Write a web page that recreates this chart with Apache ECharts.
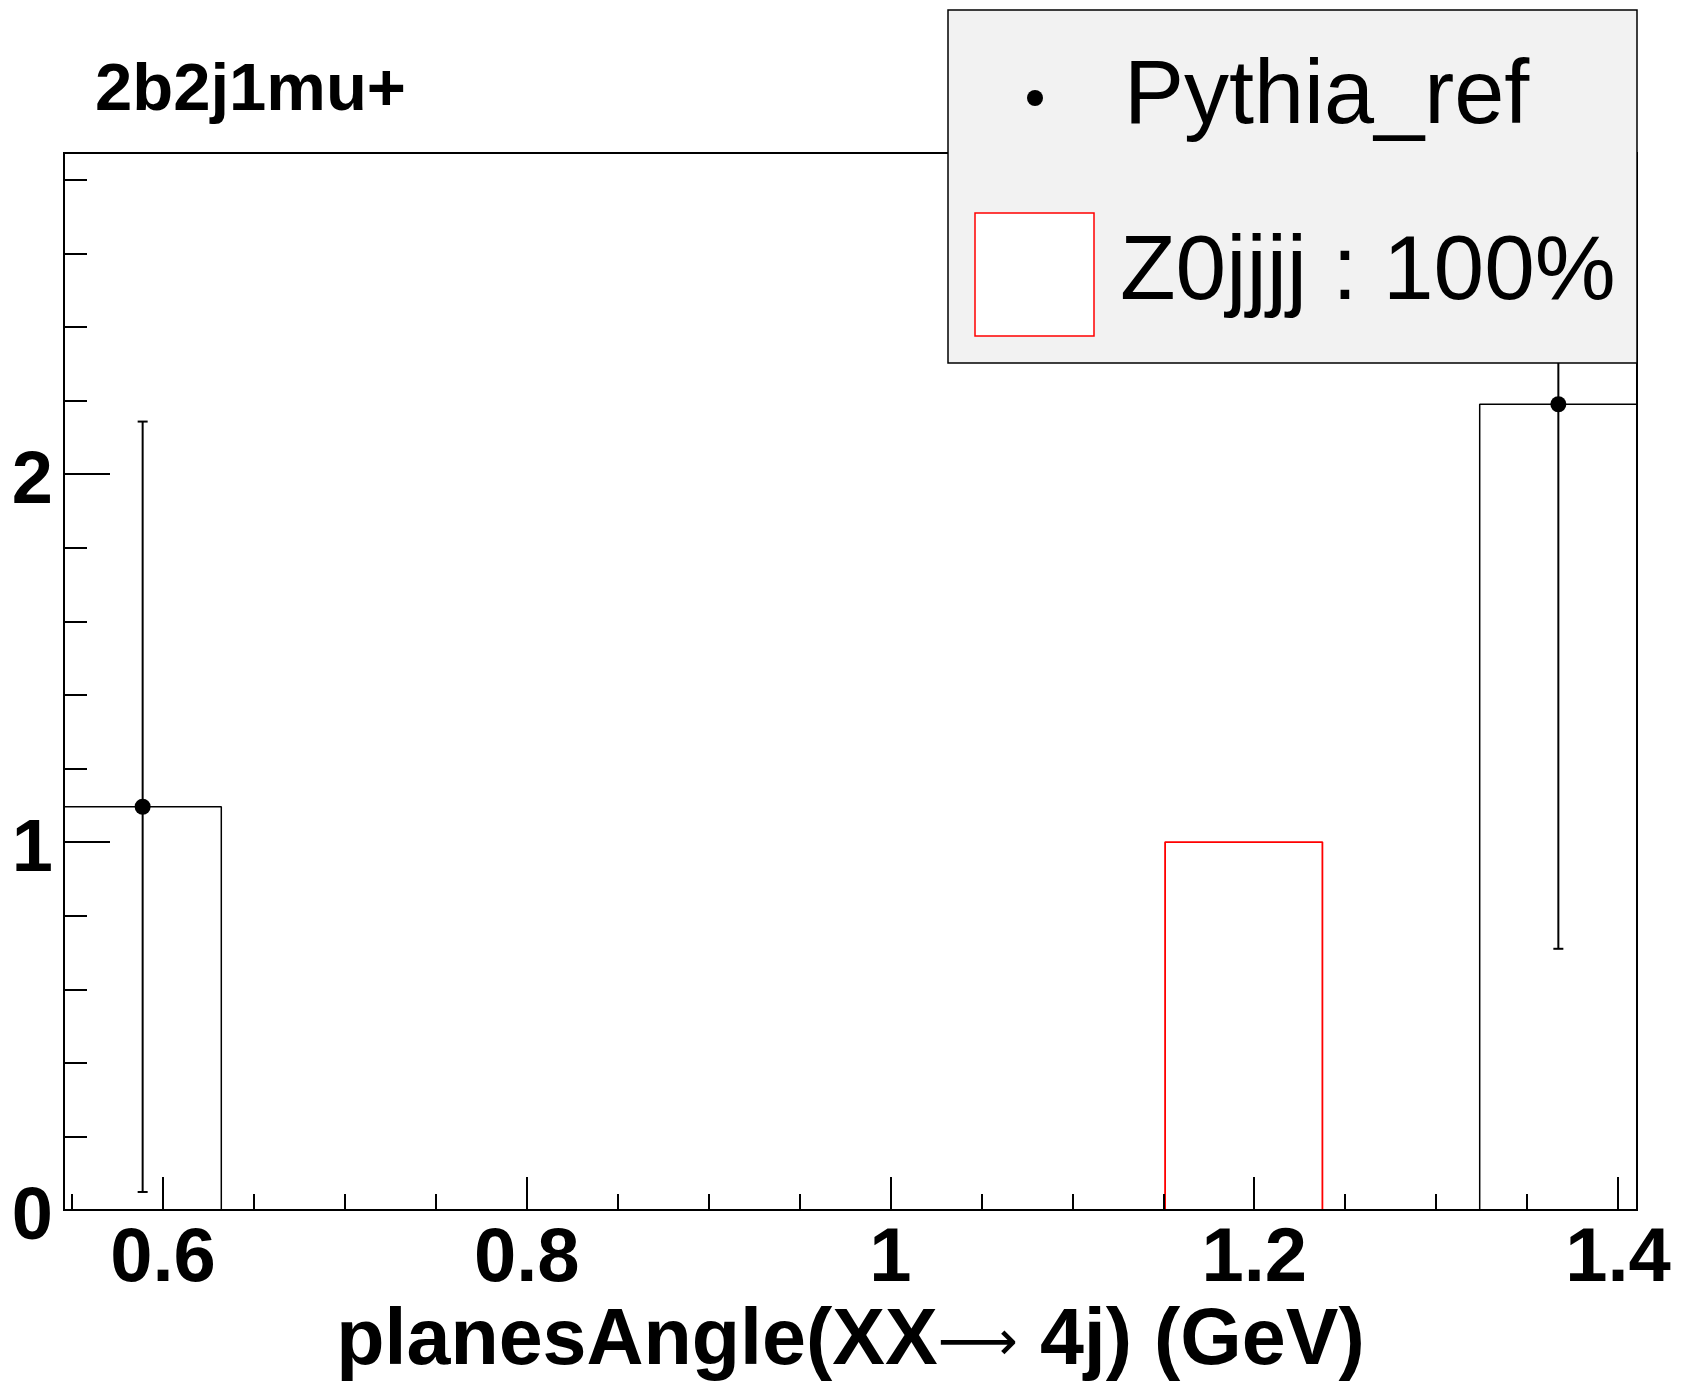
<!DOCTYPE html>
<html><head><meta charset="utf-8">
<script src="https://cdn.jsdelivr.net/npm/echarts@6/dist/echarts.min.js"></script>
<style>html,body{margin:0;padding:0;background:#fff}#c{width:1695px;height:1395px}</style>
</head><body><div id="c"></div>
<script>
// ---- data ----
const plotTitle = '2b2j1mu+';
const binRange = [0.54557, 1.41045];
const nBins = 10;
const pythiaRef = [1.096, 0, 0, 0, 0, 0, 0, 0, 0, 2.190];
const pythiaErr = [1.047, 0, 0, 0, 0, 0, 0, 0, 0, 1.480];
const z0jjjj = [0, 0, 0, 0, 0, 0, 0, 1, 0, 0];
const seriesNames = ['Pythia_ref', 'Z0jjjj : 100%'];
const xMajorTicks = [0.6, 0.8, 1.0, 1.2, 1.4];
const xTickLabels = ['0.6', '0.8', '1', '1.2', '1.4'];
const xMinorTicks = [0.55, 0.65, 0.7, 0.75, 0.85, 0.9, 0.95, 1.05, 1.1, 1.15, 1.25, 1.3, 1.35];
const yMajorTicks = [0, 1, 2];
const yTickLabels = ['0', '1', '2'];
const yMinorTicks = [0.2, 0.4, 0.6, 0.8, 1.2, 1.4, 1.6, 1.8, 2.2, 2.4, 2.6, 2.8];
const yMax = 2.873;

// ---- build ----
const binW = (binRange[1] - binRange[0]) / nBins;
function steps(vals) {
  const pts = [[binRange[0], 0]];
  vals.forEach((v, i) => {
    pts.push([binRange[0] + i * binW, v]);
    pts.push([binRange[0] + (i + 1) * binW, v]);
  });
  pts.push([binRange[1], 0]);
  return pts;
}
const points = [];
pythiaRef.forEach((v, i) => {
  if (v > 0) points.push([binRange[0] + (i + 0.5) * binW, v, pythiaErr[i]]);
});
function lbl(ticks, labels) {
  return v => { const k = ticks.findIndex(t => Math.abs(t - v) < 1e-6); return k >= 0 ? labels[k] : ''; };
}
const FONT = 'Liberation Sans';
const chart = echarts.init(document.getElementById('c'), null, {renderer: 'canvas'});
const baseX = {type: 'value', min: binRange[0], max: binRange[1], gridIndex: 0, z: 5, splitLine: {show: false}};
const baseY = {type: 'value', min: 0, max: yMax, gridIndex: 0, z: 5, splitLine: {show: false}};
chart.setOption({
  animation: false,
  backgroundColor: '#fff',
  grid: {left: 64, right: 58, top: 153, bottom: 185, show: true, borderColor: '#000', borderWidth: 2,
         backgroundColor: 'transparent', containLabel: false, outerBoundsMode: 'none'},
  xAxis: [
    Object.assign({}, baseX, {
      position: 'bottom',
      axisLine: {show: true, onZero: false, lineStyle: {color: '#000', width: 2}},
      axisTick: {show: true, inside: true, length: 33, customValues: xMajorTicks, lineStyle: {color: '#000', width: 2}},
      axisLabel: {show: true, customValues: xMajorTicks, formatter: lbl(xMajorTicks, xTickLabels), margin: 12,
                  color: '#000', fontFamily: FONT, fontWeight: 'bold', fontSize: 76},
      name: '{b|planesAngle(XX}{a|⟶}{b| 4j) (GeV)}',
      nameLocation: 'middle', nameGap: 93,
      nameTextStyle: {rich: {
        b: {fontFamily: FONT, fontWeight: 'bold', fontSize: 79, color: '#000'},
        a: {fontFamily: 'DejaVu Sans', fontWeight: 'normal', fontSize: 56, color: '#000', padding: [6, 0, 0, 0]}
      }}
    }),
    Object.assign({}, baseX, {
      position: 'bottom',
      axisLine: {show: false, onZero: false},
      axisTick: {show: true, inside: true, length: 16, customValues: xMinorTicks, lineStyle: {color: '#000', width: 2}},
      axisLabel: {show: false, customValues: xMinorTicks}
    })
  ],
  yAxis: [
    Object.assign({}, baseY, {
      position: 'left',
      axisLine: {show: true, onZero: false, lineStyle: {color: '#000', width: 2}},
      axisTick: {show: true, inside: true, length: 46, customValues: yMajorTicks, lineStyle: {color: '#000', width: 2}},
      axisLabel: {show: true, customValues: yMajorTicks, formatter: lbl(yMajorTicks, yTickLabels), margin: 11,
                  color: '#000', fontFamily: FONT, fontWeight: 'bold', fontSize: 74,
                  verticalAlign: 'top', lineHeight: 17}
    }),
    Object.assign({}, baseY, {
      position: 'left',
      axisLine: {show: false, onZero: false},
      axisTick: {show: true, inside: true, length: 23, customValues: yMinorTicks, lineStyle: {color: '#000', width: 2}},
      axisLabel: {show: false, customValues: yMinorTicks}
    })
  ],
  series: [
    {name: seriesNames[0] + ' hist', type: 'line', xAxisIndex: 0, yAxisIndex: 0, data: steps(pythiaRef),
     symbol: 'none', showSymbol: false, lineStyle: {color: '#000', width: 1.5}, z: 2, silent: true},
    {name: seriesNames[1], type: 'line', xAxisIndex: 0, yAxisIndex: 0, data: steps(z0jjjj),
     symbol: 'none', showSymbol: false, lineStyle: {color: '#ff0000', width: 1.8}, z: 3, silent: true},
    {name: seriesNames[0], type: 'custom', xAxisIndex: 0, yAxisIndex: 0, data: points, z: 4,
     encode: {x: 0, y: 1},
     renderItem: function (params, api) {
       const x = api.value(0), v = api.value(1), e = api.value(2);
       const c = api.coord([x, v]);
       const hiV = Math.min(v + e, yMax), loV = Math.max(v - e, 0);
       const hi = api.coord([x, hiV]);
       const lo = api.coord([x, loV]);
       const st = {stroke: '#000', lineWidth: 2};
       const ch = [
         {type: 'line', shape: {x1: c[0], y1: lo[1], x2: c[0], y2: hi[1]}, style: st}
       ];
       if (v + e <= yMax) ch.push({type: 'line', shape: {x1: c[0] - 5, y1: hi[1], x2: c[0] + 5, y2: hi[1]}, style: st});
       if (v - e >= 0) ch.push({type: 'line', shape: {x1: c[0] - 5, y1: lo[1], x2: c[0] + 5, y2: lo[1]}, style: st});
       ch.push({type: 'circle', shape: {cx: c[0], cy: c[1], r: 8}, style: {fill: '#000'}});
       return {type: 'group', children: ch};
     }}
  ],
  graphic: [
    {type: 'text', left: 95, top: 58, z: 100, style: {text: plotTitle, fontFamily: FONT, fontWeight: 'bold', fontSize: 67, fill: '#000'}},
    {type: 'rect', z: 100, shape: {x: 948, y: 10, width: 689, height: 353}, style: {fill: '#f2f2f2', stroke: '#000', lineWidth: 1.5}},
    {type: 'circle', z: 101, shape: {cx: 1035, cy: 98, r: 8}, style: {fill: '#000'}},
    {type: 'text', z: 101, x: 1124, y: 98, style: {text: seriesNames[0], fontFamily: FONT, fontSize: 90, fill: '#000', verticalAlign: 'middle', align: 'left'}},
    {type: 'rect', z: 101, shape: {x: 975, y: 213, width: 119, height: 123}, style: {fill: '#fff', stroke: '#ff0000', lineWidth: 1.5}},
    {type: 'text', z: 101, x: 1120, y: 274, style: {text: seriesNames[1], fontFamily: FONT, fontSize: 91, fill: '#000', verticalAlign: 'middle', align: 'left'}}
  ]
});
</script>
</body></html>
